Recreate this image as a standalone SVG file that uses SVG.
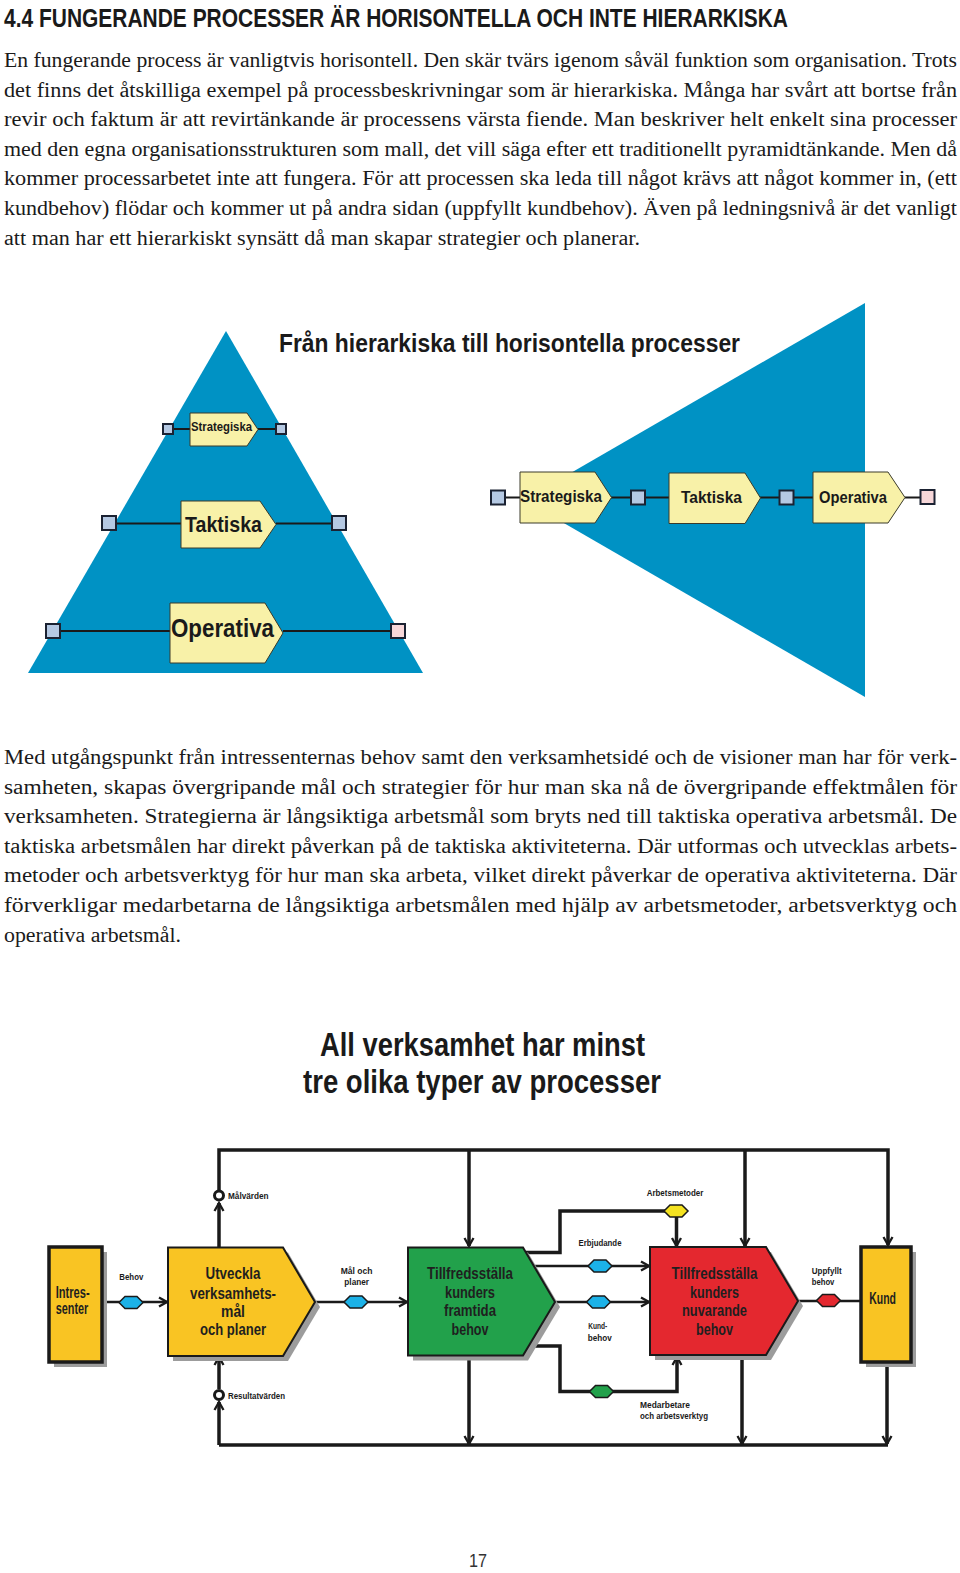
<svg xmlns="http://www.w3.org/2000/svg" xmlns:xlink="http://www.w3.org/1999/xlink" width="960" height="1573" viewBox="0 0 960 1573">
<style>
.h{font-family:"Liberation Sans",Arial,sans-serif;font-weight:bold;fill:#1a1a1a}
.b{font-family:"Liberation Serif","Times New Roman",serif;font-size:20px;fill:#1a1a1a}
.lbl{font-family:"Liberation Sans",Arial,sans-serif;font-weight:bold;font-size:9.5px;fill:#1a1a1a}
.bx{font-family:"Liberation Sans",Arial,sans-serif;font-weight:bold;font-size:16px;fill:#1f1f1f}
.pale{fill:#F8F1A8;stroke:#3a3a2a;stroke-width:1}
.sqb{fill:#B5C9E3;stroke:#1b2232;stroke-width:2}
.sqp{fill:#F7D7D9;stroke:#1b2232;stroke-width:2}
.tl{stroke:#1a1a1a;stroke-width:2;fill:none}
.k{stroke:#1a1a1a;stroke-width:3.5;fill:none}
.kt{stroke:#1a1a1a;stroke-width:2.5;fill:none}
.sh{fill:#9c9c9c}
.gold{fill:#F9C423;stroke:#1a1a1a;stroke-width:2}
.goldb{fill:#F9C423;stroke:#1a1a1a;stroke-width:3.5}
.ring{fill:#fff;stroke:#1a1a1a;stroke-width:3}
</style>
<defs>
<marker id="ah" markerUnits="userSpaceOnUse" markerWidth="14" markerHeight="14" viewBox="0 0 14 14" refX="12" refY="7" orient="auto"><path d="M4,2.5 L12,7 L4,11.5" fill="none" stroke="#1a1a1a" stroke-width="2.3"/></marker>
<polygon id="hex" points="-12,0 -6,-6 6,-6 12,0 6,6 -6,6" stroke="#1a1a1a" stroke-width="1.5"/>
</defs>
<rect width="960" height="1573" fill="#fff"/>

<g id="heading">
<text class="h" x="4" y="27" font-size="25.5" textLength="784" lengthAdjust="spacingAndGlyphs">4.4  FUNGERANDE PROCESSER ÄR HORISONTELLA OCH INTE HIERARKISKA</text>
</g>

<g id="para1" class="b">
<text x="4" y="67" textLength="953" lengthAdjust="spacingAndGlyphs">En fungerande process är vanligtvis horisontell. Den skär tvärs igenom såväl funktion som organisation. Trots</text>
<text x="4" y="96.6" textLength="953" lengthAdjust="spacingAndGlyphs">det finns det åtskilliga exempel på processbeskrivningar som är hierarkiska.  Många har svårt att bortse från</text>
<text x="4" y="126.2" textLength="953" lengthAdjust="spacingAndGlyphs">revir och faktum är att revirtänkande är processens värsta fiende. Man beskriver helt enkelt sina processer</text>
<text x="4" y="155.8" textLength="953" lengthAdjust="spacingAndGlyphs">med den egna organisationsstrukturen som mall, det vill säga efter ett traditionellt pyramidtänkande. Men då</text>
<text x="4" y="185.4" textLength="953" lengthAdjust="spacingAndGlyphs">kommer processarbetet inte att fungera. För att processen ska leda till något krävs att något kommer in, (ett</text>
<text x="4" y="215" textLength="953" lengthAdjust="spacingAndGlyphs">kundbehov) flödar och kommer ut på andra sidan (uppfyllt kundbehov). Även på ledningsnivå är det vanligt</text>
<text x="4" y="244.6" textLength="636" lengthAdjust="spacingAndGlyphs">att man har ett hierarkiskt synsätt då man skapar strategier och planerar.</text>
</g>

<g id="diagram1-title">
<text class="h" x="279" y="352" font-size="26" textLength="461" lengthAdjust="spacingAndGlyphs">Från hierarkiska till horisontella processer</text>
</g>

<g id="pyramid">
<polygon points="226,331 28,673 423,673" fill="#0092C4"/>
</g>
<g id="cone">
<polygon points="524,500 865,303 865,697" fill="#0092C4"/>
</g>

<g id="connectors-d1" class="tl">
<path d="M173,429 H190 M258,429 H276"/>
<path d="M116,523.5 H181 M276,523.5 H332"/>
<path d="M60,631 H170 M283,631 H391"/>
<path d="M505,497.5 H520 M611,497.5 H631 M645,497.5 H669 M760,497.5 H779 M794,497.5 H813 M905,497.5 H920"/>
</g>

<g id="p-strategiska">
<polygon class="pale" points="190,413 247,413 258,429.5 247,446 190,446"/>
<text class="h" x="191" y="431" font-size="12.5" textLength="61" lengthAdjust="spacingAndGlyphs">Strategiska</text>
<rect class="sqb" x="163" y="424" width="10" height="10"/>
<rect class="sqb" x="276" y="424" width="10" height="10"/>
</g>
<g id="p-taktiska">
<polygon class="pale" points="181,501 260,501 276,524.5 260,548 181,548"/>
<text class="h" x="185" y="532" font-size="22" textLength="77" lengthAdjust="spacingAndGlyphs">Taktiska</text>
<rect class="sqb" x="102" y="516" width="14" height="14"/>
<rect class="sqb" x="332" y="516" width="14" height="14"/>
</g>
<g id="p-operativa">
<polygon class="pale" points="170,603 265,603 283,633 265,663 170,663"/>
<text class="h" x="171" y="637" font-size="25.5" textLength="103" lengthAdjust="spacingAndGlyphs">Operativa</text>
<rect class="sqb" x="46" y="624" width="14" height="14"/>
<rect class="sqp" x="391" y="624" width="14" height="14"/>
</g>

<g id="h-strategiska">
<rect class="sqb" x="491" y="490.5" width="14" height="14"/>
<polygon class="pale" points="520,472 595,472 611.5,497.5 595,523 520,523"/>
<text class="h" x="520" y="501.5" font-size="17" textLength="82" lengthAdjust="spacingAndGlyphs">Strategiska</text>
</g>
<g id="h-taktiska">
<rect class="sqb" x="631" y="490.5" width="14" height="14"/>
<polygon class="pale" points="669,473 745,473 760.5,498 745,523.5 669,523.5"/>
<text class="h" x="681" y="502.5" font-size="17" textLength="61" lengthAdjust="spacingAndGlyphs">Taktiska</text>
</g>
<g id="h-operativa">
<rect class="sqb" x="779.5" y="490.5" width="14" height="14"/>
<polygon class="pale" points="813,472 888,472 905,497.5 888,523 813,523"/>
<text class="h" x="819" y="502.5" font-size="17" textLength="68" lengthAdjust="spacingAndGlyphs">Operativa</text>
<rect class="sqp" x="920.5" y="490" width="14" height="14"/>
</g>

<g id="para2" class="b">
<text x="4" y="764" textLength="953" lengthAdjust="spacingAndGlyphs">Med utgångspunkt från intressenternas behov samt den verksamhetsidé och de visioner man har för verk-</text>
<text x="4" y="793.6" textLength="953" lengthAdjust="spacingAndGlyphs">samheten, skapas övergripande mål och strategier för hur man ska nå de övergripande effektmålen för</text>
<text x="4" y="823.2" textLength="953" lengthAdjust="spacingAndGlyphs">verksamheten. Strategierna är långsiktiga arbetsmål som bryts ned till taktiska operativa arbetsmål. De</text>
<text x="4" y="852.8" textLength="953" lengthAdjust="spacingAndGlyphs">taktiska arbetsmålen har direkt påverkan på de taktiska aktiviteterna. Där utformas och utvecklas arbets-</text>
<text x="4" y="882.4" textLength="953" lengthAdjust="spacingAndGlyphs">metoder och arbetsverktyg för hur man ska arbeta, vilket direkt påverkar de operativa aktiviteterna. Där</text>
<text x="4" y="912" textLength="953" lengthAdjust="spacingAndGlyphs">förverkligar medarbetarna de långsiktiga arbetsmålen med hjälp av arbetsmetoder, arbetsverktyg och</text>
<text x="4" y="941.6" textLength="177" lengthAdjust="spacingAndGlyphs">operativa arbetsmål.</text>
</g>

<g id="diagram2-title">
<text class="h" x="320" y="1056" font-size="33" textLength="325" lengthAdjust="spacingAndGlyphs">All verksamhet har minst</text>
<text class="h" x="303" y="1093" font-size="33" textLength="358" lengthAdjust="spacingAndGlyphs">tre olika typer av processer</text>
</g>

<g id="connectors-d2">
<path class="k" d="M219,1190 V1150 H888 V1245" marker-end="url(#ah)"/>
<path class="k" d="M219,1247 V1203" marker-end="url(#ah)"/>
<path class="k" d="M469,1150 V1246" marker-end="url(#ah)"/>
<path class="k" d="M745,1150 V1246" marker-end="url(#ah)"/>
<path class="k" d="M219,1445 H888"/>
<path class="k" d="M219,1445 V1402" marker-end="url(#ah)"/>
<path class="k" d="M219,1389 V1357" marker-end="url(#ah)"/>
<path class="k" d="M469,1355 V1444" marker-end="url(#ah)"/>
<path class="k" d="M742,1355 V1444" marker-end="url(#ah)"/>
<path class="k" d="M887,1362 V1444" marker-end="url(#ah)"/>
<path class="kt" d="M102,1302 H167" marker-end="url(#ah)"/>
<path class="kt" d="M315,1302 H407" marker-end="url(#ah)"/>
<path class="k" d="M526,1252.5 H560 V1211 H668"/>
<path class="k" d="M676.5,1216 V1246" marker-end="url(#ah)"/>
<path class="kt" d="M534,1266 H649" marker-end="url(#ah)"/>
<path class="kt" d="M554,1302 H649" marker-end="url(#ah)"/>
<path class="k" d="M529,1346 H560 V1391.5 H677 V1357" marker-end="url(#ah)"/>
<path class="kt" d="M797,1301 H861"/>
</g>

<g id="intressenter">
<rect class="sh" x="54" y="1252" width="53" height="115"/>
<rect class="goldb" x="49" y="1247" width="53" height="115"/>
<text class="bx" x="55.7" y="1297.5" font-size="13" textLength="34" lengthAdjust="spacingAndGlyphs">Intres-</text>
<text class="bx" x="55.7" y="1314" font-size="13" textLength="32.6" lengthAdjust="spacingAndGlyphs">senter</text>
</g>

<g id="behov">
<use xlink:href="#hex" x="131" y="1302.5" fill="#1CB2E8"/>
<text class="lbl" x="119.3" y="1280" textLength="24" lengthAdjust="spacingAndGlyphs">Behov</text>
</g>

<g id="utveckla">
<polygon class="sh" points="173,1252.5 288,1252.5 320,1307 288,1361 173,1361"/>
<polygon class="gold" points="168,1247.5 283,1247.5 315,1302 283,1356 168,1356"/>
<g class="bx" text-anchor="middle">
<text x="233" y="1279" textLength="55" lengthAdjust="spacingAndGlyphs">Utveckla</text>
<text x="233" y="1298.5" textLength="86" lengthAdjust="spacingAndGlyphs">verksamhets-</text>
<text x="233" y="1317" textLength="24" lengthAdjust="spacingAndGlyphs">mål</text>
<text x="233" y="1335" textLength="66" lengthAdjust="spacingAndGlyphs">och planer</text>
</g>
</g>

<g id="malvarden">
<circle class="ring" cx="219" cy="1195.5" r="4.5"/>
<text class="lbl" x="228" y="1199" textLength="40.6" lengthAdjust="spacingAndGlyphs">Målvärden</text>
</g>

<g id="resultatvarden">
<circle class="ring" cx="219" cy="1395" r="4.5"/>
<text class="lbl" x="228" y="1398.5" textLength="57" lengthAdjust="spacingAndGlyphs">Resultatvärden</text>
</g>

<g id="mal-och-planer">
<use xlink:href="#hex" x="356" y="1302" fill="#1CB2E8"/>
<text class="lbl" x="356.5" y="1273.5" text-anchor="middle" textLength="31.7" lengthAdjust="spacingAndGlyphs">Mål och</text>
<text class="lbl" x="356.7" y="1285" text-anchor="middle" textLength="24.7" lengthAdjust="spacingAndGlyphs">planer</text>
</g>

<g id="framtida">
<polygon class="sh" points="413,1252.5 528,1252.5 560,1307 528,1360.5 413,1360.5"/>
<polygon points="408,1247.5 523,1247.5 555,1302 523,1355.5 408,1355.5" fill="#22A14B" stroke="#1a1a1a" stroke-width="2"/>
<g class="bx" text-anchor="middle">
<text x="470" y="1278.5" textLength="86" lengthAdjust="spacingAndGlyphs">Tillfredsställa</text>
<text x="470" y="1298" textLength="50" lengthAdjust="spacingAndGlyphs">kunders</text>
<text x="470" y="1316" textLength="52" lengthAdjust="spacingAndGlyphs">framtida</text>
<text x="470" y="1334.5" textLength="37" lengthAdjust="spacingAndGlyphs">behov</text>
</g>
</g>

<g id="arbetsmetoder">
<use xlink:href="#hex" x="676" y="1211" fill="#F4E220"/>
<text class="lbl" x="675" y="1196" text-anchor="middle" textLength="56.7" lengthAdjust="spacingAndGlyphs">Arbetsmetoder</text>
</g>

<g id="erbjudande">
<use xlink:href="#hex" x="600" y="1266" fill="#1CB2E8"/>
<text class="lbl" x="600" y="1246" text-anchor="middle" textLength="43" lengthAdjust="spacingAndGlyphs">Erbjudande</text>
</g>

<g id="kundbehov">
<use xlink:href="#hex" x="598.5" y="1302" fill="#1CB2E8"/>
<text class="lbl" x="588.3" y="1328.5" textLength="19" lengthAdjust="spacingAndGlyphs">Kund-</text>
<text class="lbl" x="587.7" y="1341" textLength="24" lengthAdjust="spacingAndGlyphs">behov</text>
</g>

<g id="medarbetare">
<use xlink:href="#hex" x="601.5" y="1391.5" fill="#22A14B"/>
<text class="lbl" x="640" y="1408" textLength="50" lengthAdjust="spacingAndGlyphs">Medarbetare</text>
<text class="lbl" x="640" y="1419" textLength="68" lengthAdjust="spacingAndGlyphs">och arbetsverktyg</text>
</g>

<g id="nuvarande">
<polygon class="sh" points="655,1252 771,1252 803,1306 771,1360 655,1360"/>
<polygon points="650,1247 766,1247 798,1301 766,1355 650,1355" fill="#E4282F" stroke="#1a1a1a" stroke-width="2"/>
<g class="bx" text-anchor="middle">
<text x="714.5" y="1278.5" textLength="86" lengthAdjust="spacingAndGlyphs">Tillfredsställa</text>
<text x="714.5" y="1298" textLength="49" lengthAdjust="spacingAndGlyphs">kunders</text>
<text x="714.5" y="1316" textLength="65" lengthAdjust="spacingAndGlyphs">nuvarande</text>
<text x="714.5" y="1334.5" textLength="37" lengthAdjust="spacingAndGlyphs">behov</text>
</g>
</g>

<g id="uppfyllt">
<use xlink:href="#hex" x="828.5" y="1300.5" fill="#E4282F"/>
<text class="lbl" x="811.7" y="1273.5" textLength="30" lengthAdjust="spacingAndGlyphs">Uppfyllt</text>
<text class="lbl" x="811.7" y="1285" textLength="22.7" lengthAdjust="spacingAndGlyphs">behov</text>
</g>

<g id="kund">
<rect class="sh" x="866" y="1252" width="50" height="115"/>
<rect class="goldb" x="861" y="1247" width="50" height="115"/>
<text class="bx" x="869.3" y="1304" font-size="12.5" textLength="26.7" lengthAdjust="spacingAndGlyphs">Kund</text>
</g>

<g id="page-number">
<text x="469" y="1567" font-family="Liberation Sans, Arial, sans-serif" font-size="19" fill="#333" textLength="18" lengthAdjust="spacingAndGlyphs">17</text>
</g>
</svg>
